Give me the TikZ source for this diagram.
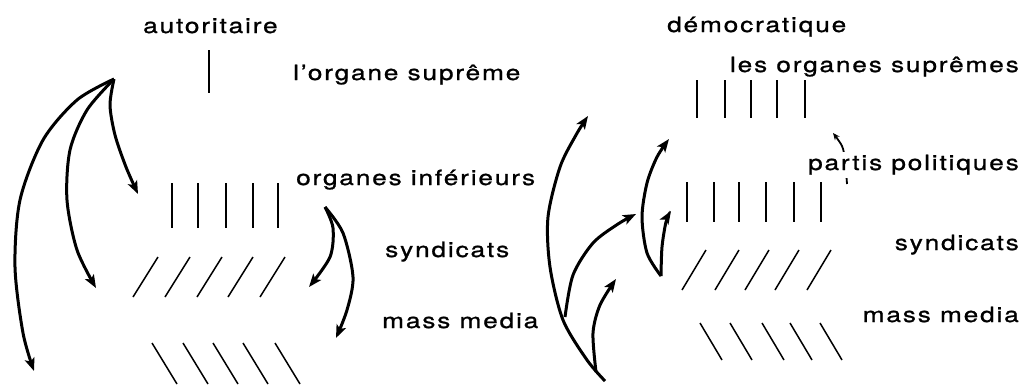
\documentclass[tikz,border=0pt]{standalone}
\usepackage{fontspec}
\setmainfont[LetterSpace=8.7, FakeStretch=1.25, FakeBold=1]{TeX Gyre Heros}
\usetikzlibrary{arrows.meta}
\begin{document}
\begin{tikzpicture}[x=1pt,y=-1pt,
  lbl/.style={anchor=base west, inner sep=0pt, font=\fontsize{21}{24}\selectfont},
  lblr/.style={lbl, anchor=base east},
  bar/.style={line width=1.5pt},
  arr/.style={line width=3pt, -{Stealth[length=13pt,width=10pt,inset=3pt]}},
  tiny/.style={line width=1.8pt, -{Stealth[length=7pt,width=6pt]}},
]
\useasboundingbox (0,0) rectangle (1030,384);

% ---------- authoritarian model ----------
\node[lbl] (aut) at (143,33) {autoritaire};
\node[lbl] (sup) at (293,80) {l’organe suprême};
\node[lbl] (inf) at (296,185) {organes inférieurs};
\node[lbl] (syn) at (385,257) {syndicats};
\node[lbl] (mm)  at (382,328) {mass media};

\draw[bar] (209,50) -- (209,93);
\foreach \x in {172,198,226,253,278} \draw[bar] (\x,183) -- (\x,228);
\foreach \x in {133,165,197,228,260} \draw[bar] (\x,297) -- ++(25,-40);
\foreach \x in {152,183,213,243,275} \draw[bar] (\x,343) -- ++(25,41);

\coordinate (L) at (114,79);
\coordinate (R) at (325,207);
\draw[arr] plot[smooth] coordinates {(L) (110,105) (115,135) (126,167) (138,194)};
\draw[arr] plot[smooth] coordinates {(L) (87,110) (70,150) (67,200) (77,250) (96,288)};
\draw[arr] plot[smooth] coordinates {(L) (77,100) (43,140) (20,200) (15,267) (23,333) (34,371)};
\draw[arr] plot[smooth] coordinates {(R) (333,228) (330,257) (309,287)};
\draw[arr] plot[smooth] coordinates {(R) (343,233) (353,277) (347,310) (336,338)};

% ---------- democratic model ----------
\draw[tiny] plot[smooth] coordinates {(847,184) (845,160) (842,146) (833,133)};

\node[lbl]  (dem)  at (667,32)   {démocratique};
\node[lblr] (les)  at (1019,72)  {les organes suprêmes};
\node[lblr, fill=white, inner ysep=3pt] (pp) at (1019,170) {partis politiques};
\node[lblr] (syn2) at (1019,250) {syndicats};
\node[lblr] (mm2)  at (1019,322) {mass media};

\foreach \x in {697,725,751,777,805} \draw[bar] (\x,80) -- (\x,118);
\foreach \x in {687,714,739,766,794,821} \draw[bar] (\x,182) -- (\x,222);
\foreach \x in {682,715,745,775,807} \draw[bar] (\x,290) -- ++(24,-40);
\foreach \x in {700,730,762,790,820} \draw[bar] (\x,323) -- ++(22,37);

\coordinate (B) at (605,381);
\coordinate (M) at (661,276);
\draw[arr] plot[smooth] coordinates {(B) (587,360) (563,320) (550,267) (548,217) (560,167) (576,135) (588,116)};
\draw[arr] plot[smooth] coordinates {(565,317) (573,275) (593,243) (618,224) (636,214)};
\draw[arr] plot[smooth] coordinates {(596,372) (593,333) (600,305) (616,279)};
\draw[arr] plot[smooth] coordinates {(M) (647,253) (642,217) (647,183) (657,157) (669,139)};
\draw[arr] plot[smooth] coordinates {(M) (662,247) (666,222) (671,211)};
\end{tikzpicture}
\end{document}
